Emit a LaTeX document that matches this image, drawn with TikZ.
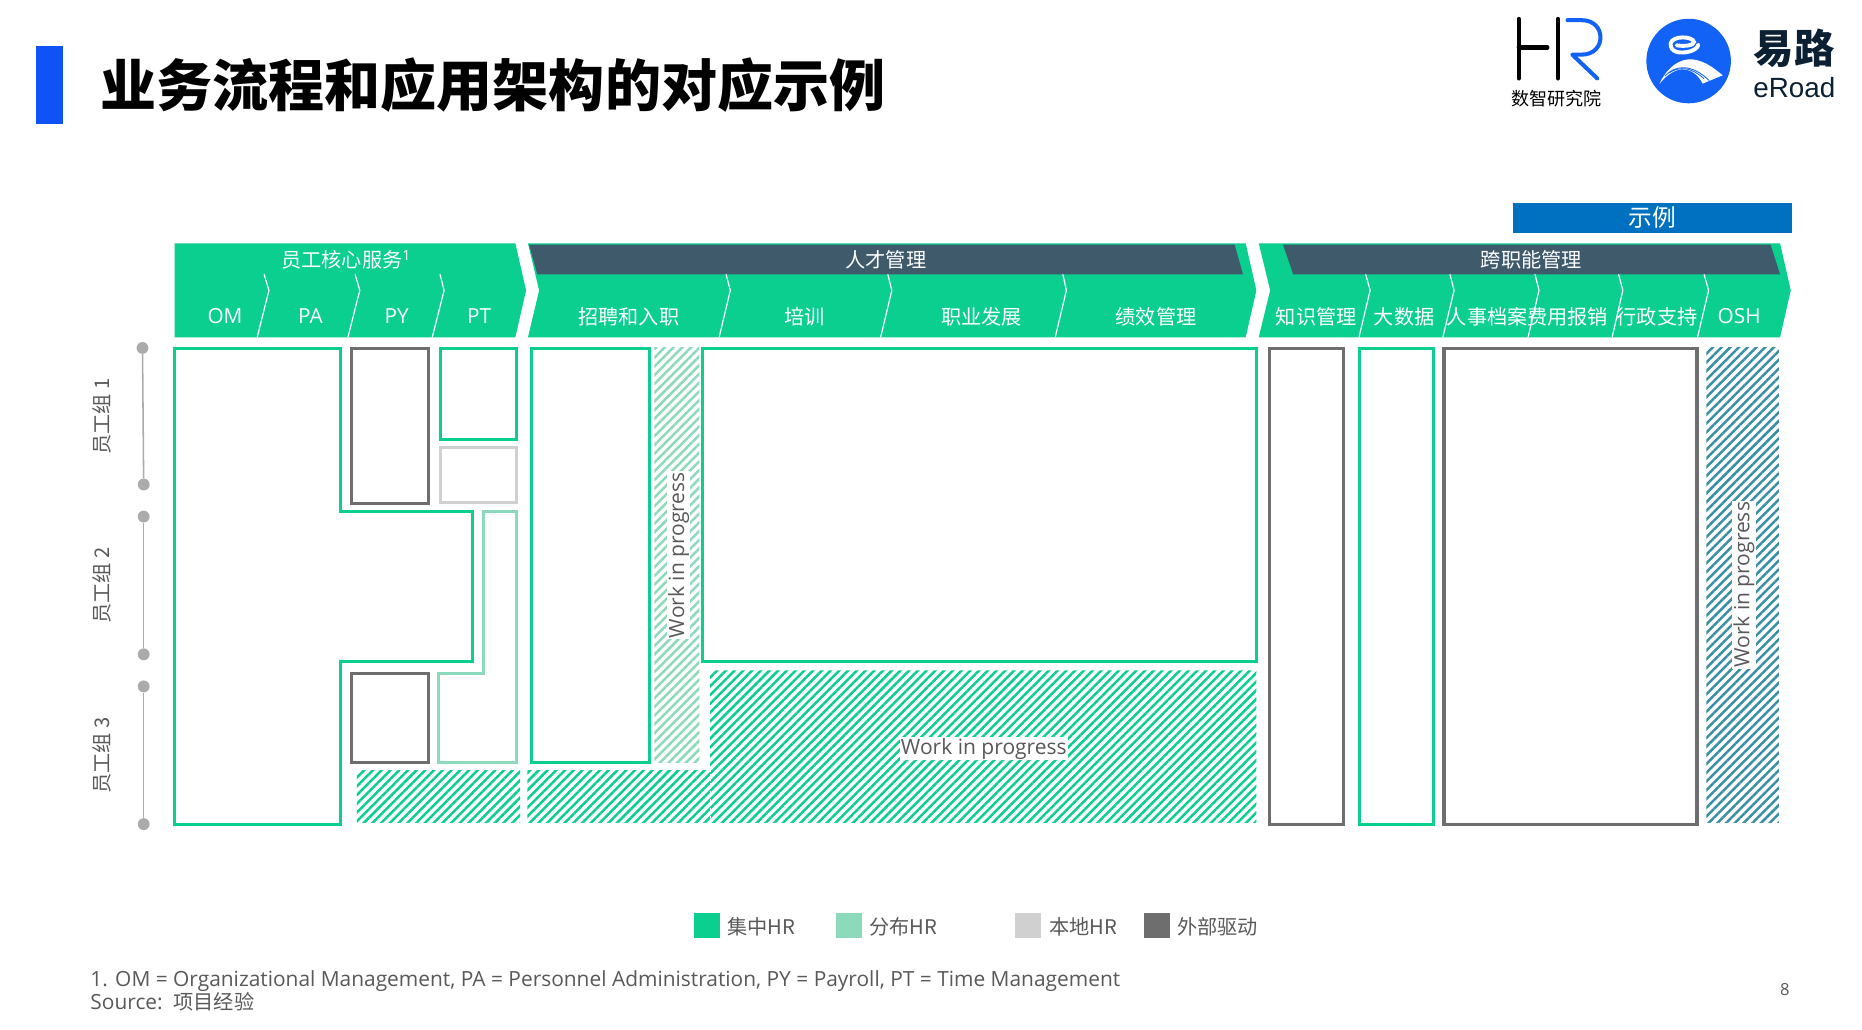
\documentclass[tikz,border=0pt]{standalone}
\usepackage{fontspec}
\setmainfont{Noto Sans CJK SC}
\newfontfamily\lat{Open Sans}
\newfontfamily\ari{Liberation Sans}
\usetikzlibrary{patterns.meta}
\definecolor{grn}{HTML}{0ACF8F}
\definecolor{lgrn}{HTML}{8CD9BC}
\definecolor{lgry}{HTML}{D0D0D0}
\definecolor{dgry}{HTML}{6E6E6E}
\definecolor{band}{HTML}{3E5A6B}
\definecolor{txt}{HTML}{595959}
\definecolor{tl}{HTML}{3A8FA5}
\definecolor{blu}{HTML}{1262F5}
\definecolor{navy}{HTML}{0B2033}
\definecolor{tagb}{HTML}{0070C0}
\newcommand{\fz}[1]{\fontsize{#1}{#1}\selectfont}
\tikzset{
 x=1pt,y=-1pt,
 chev/.style={fill=grn,draw=none},
 bandshape/.style={fill=band,draw=none},
 sepline/.style={draw=white,line width=1pt},
 glab/.style={text=white,font=\fz{17},inner sep=0pt},
 llab/.style={text=white,font=\lat\fz{17.5},inner sep=0pt},
 gbox/.style={draw=grn,line width=2.6pt,fill=white,line join=miter},
 lbox/.style={draw=lgrn,line width=2.6pt,fill=white},
 ybox/.style={draw=lgry,line width=2.6pt,fill=white},
 dbox/.style={draw=dgry,line width=2.6pt,fill=white},
 hatchg/.style={draw=none,pattern={Lines[angle=45,distance=5.2pt,line width=2.1pt]},pattern color=grn},
 hatchl/.style={draw=none,pattern={Lines[angle=45,distance=5.2pt,line width=2.1pt]},pattern color=lgrn},
 hatcht/.style={draw=none,pattern={Lines[angle=45,distance=5.2pt,line width=2.1pt]},pattern color=tl},
 wip/.style={text=txt,font=\lat\fz{17.7},inner sep=1pt,fill=white},
 grp/.style={text=txt,font=\fz{17},inner sep=0pt,rotate=90},
 dotn/.style={circle,fill=black!33,inner sep=0pt,minimum size=10pt},
 rail/.style={draw=black!33,line width=1.3pt},
 swatch/.style={inner sep=0pt,minimum width=22pt,minimum height=21pt},
 leg/.style={text=txt,font=\fz{17},inner sep=0pt,anchor=west},
 foot/.style={text=txt,font=\lat\fz{17.6},inner sep=0pt,anchor=west},
}
\begin{document}
\begin{tikzpicture}
\useasboundingbox (0,0) rectangle (1568,867);
% title
\fill[fill=blu!85!blue] (30,39) rectangle (53,104);
\node[anchor=west,inner sep=0pt,font=\bfseries\fz{47.2}] (title) at (84.5,72) {业务流程和应用架构的对应示例};
% HR logo
\draw[black,line width=3.6pt,line cap=round] (1279,16) -- (1279,66) (1312,16) -- (1312,66) (1279,40) -- (1303,40);
\draw[blu,line width=3.4pt,line join=round,line cap=round] (1320,17) -- (1332,17) .. controls (1353,17) and (1353,46) .. (1332,46) -- (1324,46) -- (1345,66);
\node[inner sep=0pt,font=\fz{15.2}] (hrsub) at (1311,83) {数智研究院};
% eRoad logo
\fill[blu] (1422,51.4) circle (35.6);
\begin{scope}[shift={(1372.6,8.42)},scale=0.2807]
\draw[white,line width=3.3pt,line cap=round] (140,106) .. controls (165,110) and (192,106) .. (192,96) .. controls (188,78) and (128,76) .. (122,100) .. controls (120,128) and (150,130) .. (172,126) .. controls (188,124) and (204,114) .. (205,104);
\fill[white] (88,222) .. controls (105,185) and (135,152) .. (175,148) .. controls (215,146) and (250,172) .. (278,196) -- (218,221) .. controls (205,195) and (185,178) .. (155,178) .. controls (130,180) and (105,200) .. (88,222) -- cycle;
\draw[blu,line width=.7pt] (105,198) .. controls (135,165) and (185,160) .. (238,212);
\draw[blu,line width=.7pt] (118,188) .. controls (150,168) and (185,172) .. (222,206);
\end{scope}
\node[inner sep=0pt,font=\bfseries\fz{34},text=navy] (yilu) at (1511,41) {易路};
\node[inner sep=0pt,font=\ari\fz{23.4},text=navy] (eroad) at (1511,73.5) {eRoad};
% tag
\node[inner sep=0pt,minimum width=235pt,minimum height=25pt,fill=tagb,text=white,font=\fz{20}] (tag) at (1391.5,183.5) {示例};
% chevrons
\fill[chev] (147,205) -- (434,205) -- (443,244.5) -- (434,284) -- (147,284) -- cycle;
\fill[chev] (444.6,205) -- (1049,205) -- (1058,244.5) -- (1049,284) -- (444.6,284) -- (454,244.5) -- cycle;
\fill[chev] (1060,205) -- (1499,205) -- (1508,244.5) -- (1499,284) -- (1060,284) -- (1069.6,244.5) -- cycle;
\fill[bandshape] (445.5,206) -- (1039.7,206) -- (1046.7,231) -- (452.5,231) -- cycle;
\fill[bandshape] (1080.4,206) -- (1491,206) -- (1499,231) -- (1089,231) -- cycle;
\foreach \a/\b/\c in {222.4/226.5/216.6,299/303/293,370.5/374/364,
 611.4/615/605.6,747.6/751/741.6,895/898/888.6,
 1150/1153.8/1144.4,1221/1224.5/1215,1292.6/1296/1286.8,1363/1366.6/1357.6,1435/1438.8/1429.5}
 \draw[sepline] (\a,231) -- (\b,244.5) -- (\c,284);
\node[glab] (h1) at (291.5,219) {员工核心服务\textsuperscript{\lat 1}};
\node[glab] (h2) at (746,219) {人才管理};
\node[glab] (h3) at (1289.5,219) {跨职能管理};
\node[llab] (om) at (189.5,266.5) {OM};
\node[llab] (pa) at (261.5,266.5) {PA};
\node[llab] (py) at (334,266.5) {PY};
\node[llab] (pt) at (403.5,266.5) {PT};
\node[glab] (c1) at (529.5,267) {招聘和入职};
\node[glab] (c2) at (677.5,267) {培训};
\node[glab] (c3) at (826.5,267) {职业发展};
\node[glab] (c4) at (973.5,267) {绩效管理};
\node[glab] (d1) at (1108.5,267) {知识管理};
\node[glab] (d2) at (1182.5,267) {大数据};
\node[glab] (d3) at (1252.5,267) {人事档案};
\node[glab] (d4) at (1320,267) {费用报销};
\node[glab] (d5) at (1395.5,267) {行政支持};
\node[llab] (d6) at (1464.5,266.5) {OSH};
% hatches
\fill[hatchl] (551,293) rectangle (589,642);
\fill[hatchg] (300.6,648.5) rectangle (438,693);
\fill[hatchg] (598,564.5) -- (1058,564.5) -- (1058,693) -- (444,693) -- (444,648.5) -- (598,648.5) -- cycle;
\draw[white,line width=.5pt,dash pattern=on 2pt off 1.5pt] (598,648.5) -- (598,693);
\fill[hatcht] (1437,293) rectangle (1498,693);
% boxes
\draw[gbox] (147.3,293.3) -- (287,293.3) -- (287,431) -- (398,431) -- (398,557) -- (287,557) -- (287,694) -- (147.3,694) -- cycle;
\draw[dbox] (296,293.3) rectangle (361,424);
\draw[gbox] (371,293.3) rectangle (435,370);
\draw[ybox] (371,377) rectangle (435,423);
\draw[lbox] (407,431) -- (435,431) -- (435,642) -- (369,642) -- (369,567) -- (407,567) -- cycle;
\draw[dbox] (296,567) rectangle (361,642);
\draw[gbox] (447.3,293.3) rectangle (547,642);
\draw[gbox] (591.3,293.3) rectangle (1058,557);
\draw[dbox] (1069,293.3) rectangle (1131,694);
\draw[gbox] (1145,293.3) rectangle (1207,694);
\draw[dbox] (1216,293.3) rectangle (1429,694);
\node[wip,rotate=90] (w1) at (571.5,467.5) {Work in progress};
\node[wip] (w2) at (828.5,630.5) {Work in progress};
\node[wip,rotate=90] (w3) at (1468.5,492.5) {Work in progress};
% groups
\node[dotn] (a1) at (120,293) {};
\node[dotn] (a2) at (121,408) {};
\node[dotn] (b1) at (121,435) {};
\node[dotn] (b2) at (121,551) {};
\node[dotn] (e1) at (121,578) {};
\node[dotn] (e2) at (121,694) {};
\draw[rail] (a1) -- (a2);
\draw[rail] (b1) -- (b2);
\draw[rail] (e1) -- (e2);
\node[grp] (g1) at (85.5,351) {员工组 1};
\node[grp] (g2) at (85.5,493) {员工组 2};
\node[grp] (g3) at (85.5,636) {员工组 3};
% legend
\node[swatch,fill=grn] (s1) at (595,779.5) {};
\node[swatch,fill=lgrn] (s2) at (715,779.5) {};
\node[swatch,fill=lgry] (s3) at (866,779.5) {};
\node[swatch,fill=dgry] (s4) at (974,779.5) {};
\node[leg] (l1) at (612.5,780.5) {集中HR};
\node[leg] (l2) at (732,780.5) {分布HR};
\node[leg] (l3) at (883.5,780.5) {本地HR};
\node[leg] (l4) at (991,780.5) {外部驱动};
% footer
\node[foot] (f1) at (76,826.5) {1. OM = Organizational Management, PA = Personnel Administration, PY = Payroll, PT = Time Management};
\node[foot] (f2) at (76,843.5) {Source:\hspace{4pt}{\rmfamily\fz{17} 项目经验}};
\node[inner sep=0pt,text=txt,font=\lat\fz{14}] (pg) at (1503,833) {8};
\end{tikzpicture}
\end{document}
